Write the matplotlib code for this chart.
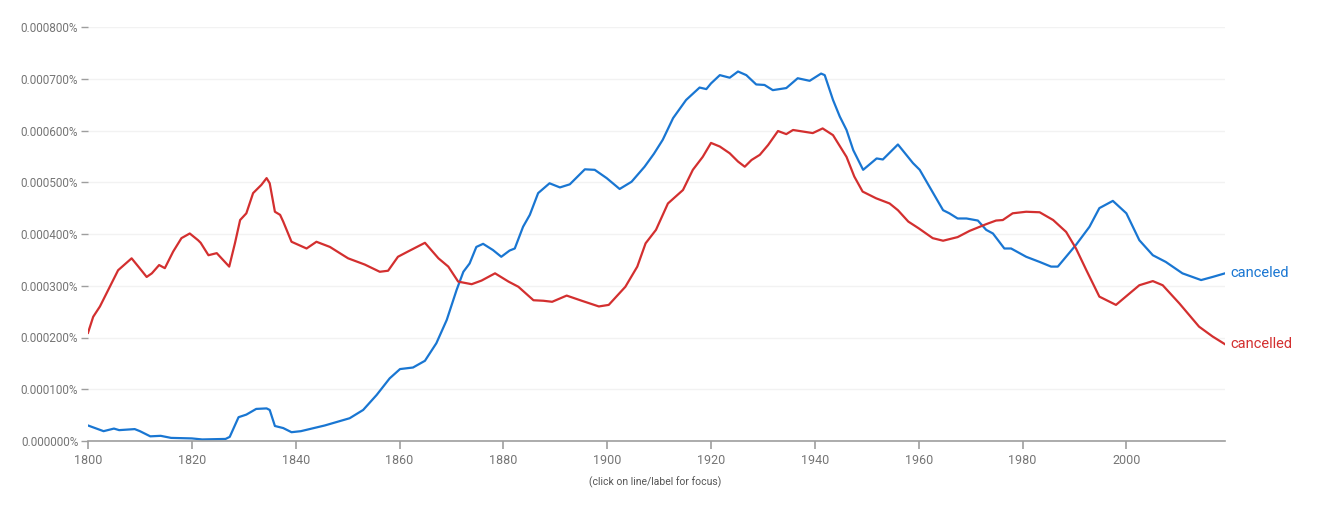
import matplotlib
matplotlib.use("Agg")
import matplotlib.pyplot as plt
from matplotlib.ticker import FuncFormatter

plt.rcParams['font.family'] = ['Roboto', 'DejaVu Sans']

# valores em unidades de 1e-4 %
anos_canceled = [1800, 1803, 1805, 1806, 1809, 1810, 1812, 1814, 1816, 1820, 1822, 1826.5, 1827.3,
                 1829, 1830.5, 1832.4, 1834.4, 1835, 1836, 1837.6, 1839.2, 1841, 1845.6, 1850.4,
                 1853, 1855.6, 1858.1, 1860.1, 1862.6, 1864.9, 1867.1, 1869.1, 1871, 1872.3,
                 1873.5, 1874.8, 1876.1, 1878, 1879.6, 1881.2, 1882.2, 1883.8, 1885.1, 1886.7,
                 1888.9, 1890.9, 1892.8, 1895.7, 1897.6, 1899.9, 1902.4, 1904.7, 1907.2, 1909,
                 1910.7, 1912.7, 1915.2, 1917.8, 1919.1, 1920, 1921.7, 1923.6, 1925.2, 1926.8,
                 1928.7, 1930.3, 1931.9, 1934.5, 1936.7, 1939, 1941.2, 1941.9, 1943.5, 1944.8,
                 1946.1, 1947.4, 1949.3, 1951.9, 1953.1, 1956, 1958.9, 1960.2, 1962.1, 1964.7,
                 1965.9, 1967.5, 1969.2, 1971.4, 1973, 1974.3, 1976.5, 1977.8, 1980.7, 1983.3,
                 1985.5, 1986.8, 1990.3, 1992.9, 1994.8, 1997.4, 2000, 2002.5, 2005.1, 2007.6,
                 2010.8, 2014.4, 2016.6, 2019]
valores_canceled = [0.30, 0.19, 0.24, 0.21, 0.23, 0.19, 0.09, 0.10, 0.06, 0.05, 0.03, 0.04, 0.08,
                    0.46, 0.51, 0.62, 0.63, 0.60, 0.29, 0.25, 0.17, 0.19, 0.30, 0.44,
                    0.60, 0.89, 1.21, 1.39, 1.42, 1.55, 1.89, 2.34, 2.92, 3.27,
                    3.43, 3.75, 3.81, 3.69, 3.56, 3.68, 3.72, 4.14, 4.37, 4.79,
                    4.98, 4.90, 4.96, 5.25, 5.24, 5.08, 4.87, 5.01, 5.30, 5.55,
                    5.82, 6.24, 6.59, 6.83, 6.80, 6.91, 7.07, 7.02, 7.14, 7.07,
                    6.89, 6.88, 6.78, 6.82, 7.01, 6.96, 7.10, 7.07, 6.59, 6.27,
                    6.01, 5.62, 5.24, 5.46, 5.44, 5.73, 5.37, 5.24, 4.91, 4.46,
                    4.40, 4.30, 4.30, 4.26, 4.08, 4.01, 3.72, 3.72, 3.56, 3.46,
                    3.37, 3.37, 3.79, 4.14, 4.50, 4.64, 4.40, 3.88, 3.59, 3.46,
                    3.24, 3.11, 3.17, 3.24]

anos_cancelled = [1800, 1801, 1802.3, 1803.9, 1805.8, 1808.4, 1809.7, 1811.3, 1812.3, 1813.7,
                  1814.8, 1816.4, 1818, 1819.6, 1821.2, 1821.7, 1823.2, 1824.8, 1827.2, 1828.3,
                  1829.3, 1830.5, 1831.8, 1833.4, 1834.4, 1835, 1836, 1837, 1837.6, 1839.2,
                  1842.1, 1844, 1846.6, 1848.5, 1850.1, 1853.3, 1856.2, 1857.8, 1859.7, 1861.6,
                  1864.9, 1867.5, 1869.4, 1871.3, 1873.9, 1875.8, 1878.4, 1881, 1882.9, 1885.8,
                  1887.7, 1889.4, 1892.2, 1895.1, 1898.4, 1900.3, 1903.5, 1905.8, 1907.4, 1909.4,
                  1911.7, 1914.6, 1916.5, 1918.4, 1920, 1921.7, 1923.6, 1925.2, 1926.5, 1927.8,
                  1929.4, 1931, 1932.9, 1934.5, 1935.8, 1939.6, 1941.5, 1943.5, 1946.1, 1947.6,
                  1949.2, 1951.8, 1954.4, 1956, 1958, 1960, 1962.7, 1964.7, 1967.5, 1969.8,
                  1973, 1974.9, 1976.2, 1978.1, 1980.7, 1983.3, 1985.9, 1988.4, 1990.3, 1992.3,
                  1994.8, 1998, 2000.6, 2002.5, 2005.1, 2007, 2010.2, 2014, 2016.6, 2019]
valores_cancelled = [2.09, 2.40, 2.60, 2.92, 3.30, 3.53, 3.37, 3.17, 3.24, 3.40,
                     3.34, 3.66, 3.92, 4.01, 3.88, 3.83, 3.59, 3.63, 3.37, 3.82,
                     4.27, 4.40, 4.79, 4.95, 5.08, 4.98, 4.43, 4.37, 4.24, 3.85,
                     3.72, 3.85, 3.75, 3.63, 3.53, 3.41, 3.27, 3.29, 3.56, 3.66,
                     3.83, 3.53, 3.37, 3.08, 3.03, 3.10, 3.24, 3.08, 2.98, 2.72,
                     2.71, 2.69, 2.81, 2.71, 2.60, 2.63, 2.98, 3.37, 3.82, 4.08,
                     4.59, 4.85, 5.24, 5.49, 5.76, 5.69, 5.56, 5.40, 5.30, 5.43,
                     5.53, 5.72, 5.99, 5.93, 6.01, 5.95, 6.04, 5.91, 5.49, 5.11,
                     4.82, 4.69, 4.59, 4.46, 4.24, 4.11, 3.92, 3.87, 3.94, 4.06,
                     4.19, 4.26, 4.27, 4.40, 4.43, 4.42, 4.27, 4.04, 3.72, 3.30,
                     2.79, 2.63, 2.85, 3.01, 3.09, 3.01, 2.66, 2.21, 2.02, 1.87]

anos_ticks = [1800, 1820, 1840, 1860, 1880, 1900, 1920, 1940, 1960, 1980, 2000]

azul = '#1976d2'
vermelho = '#d32f2f'
cinza = '#757575'

fig = plt.figure(figsize=(13.17, 5.05), dpi=100)
ax = fig.add_axes([88/1317, 1-441/505, (1225-88)/1317, (441-27)/505])

ax.plot(anos_canceled, valores_canceled, color=azul, lw=1.6, solid_joinstyle='round')
ax.plot(anos_cancelled, valores_cancelled, color=vermelho, lw=1.6, solid_joinstyle='round')

ax.set_xlim(1800, 2019)
ax.set_ylim(0, 8)
ax.set_yticks(range(0, 9))
ax.yaxis.set_major_formatter(FuncFormatter(lambda v, p: f"{v*1e-4:.6f}%"))
ax.set_xticks(anos_ticks)
ax.grid(axis='y', color='#f2f2f2', lw=1)
ax.set_axisbelow(True)

for lado in ['top', 'right', 'left']:
    ax.spines[lado].set_visible(False)
ax.spines['bottom'].set_color('#9e9e9e')
ax.spines['bottom'].set_linewidth(1.2)
ax.tick_params(axis='y', length=5, width=1, color='#9e9e9e', labelcolor=cinza, labelsize=8.5, pad=2)
ax.tick_params(axis='x', length=6, width=1.2, color='#9e9e9e', labelcolor=cinza, labelsize=9, pad=3)

ax.text(2020, valores_canceled[-1], 'canceled', color=azul, fontsize=10.5, va='center', ha='left')
ax.text(2020, valores_cancelled[-1], 'cancelled', color=vermelho, fontsize=10.5, va='center', ha='left')

fig.text(655/1317, 1-482/505, '(click on line/label for focus)', color='#555555', fontsize=7.5,
         ha='center', va='center')

fig.savefig('out.png', dpi=100)
